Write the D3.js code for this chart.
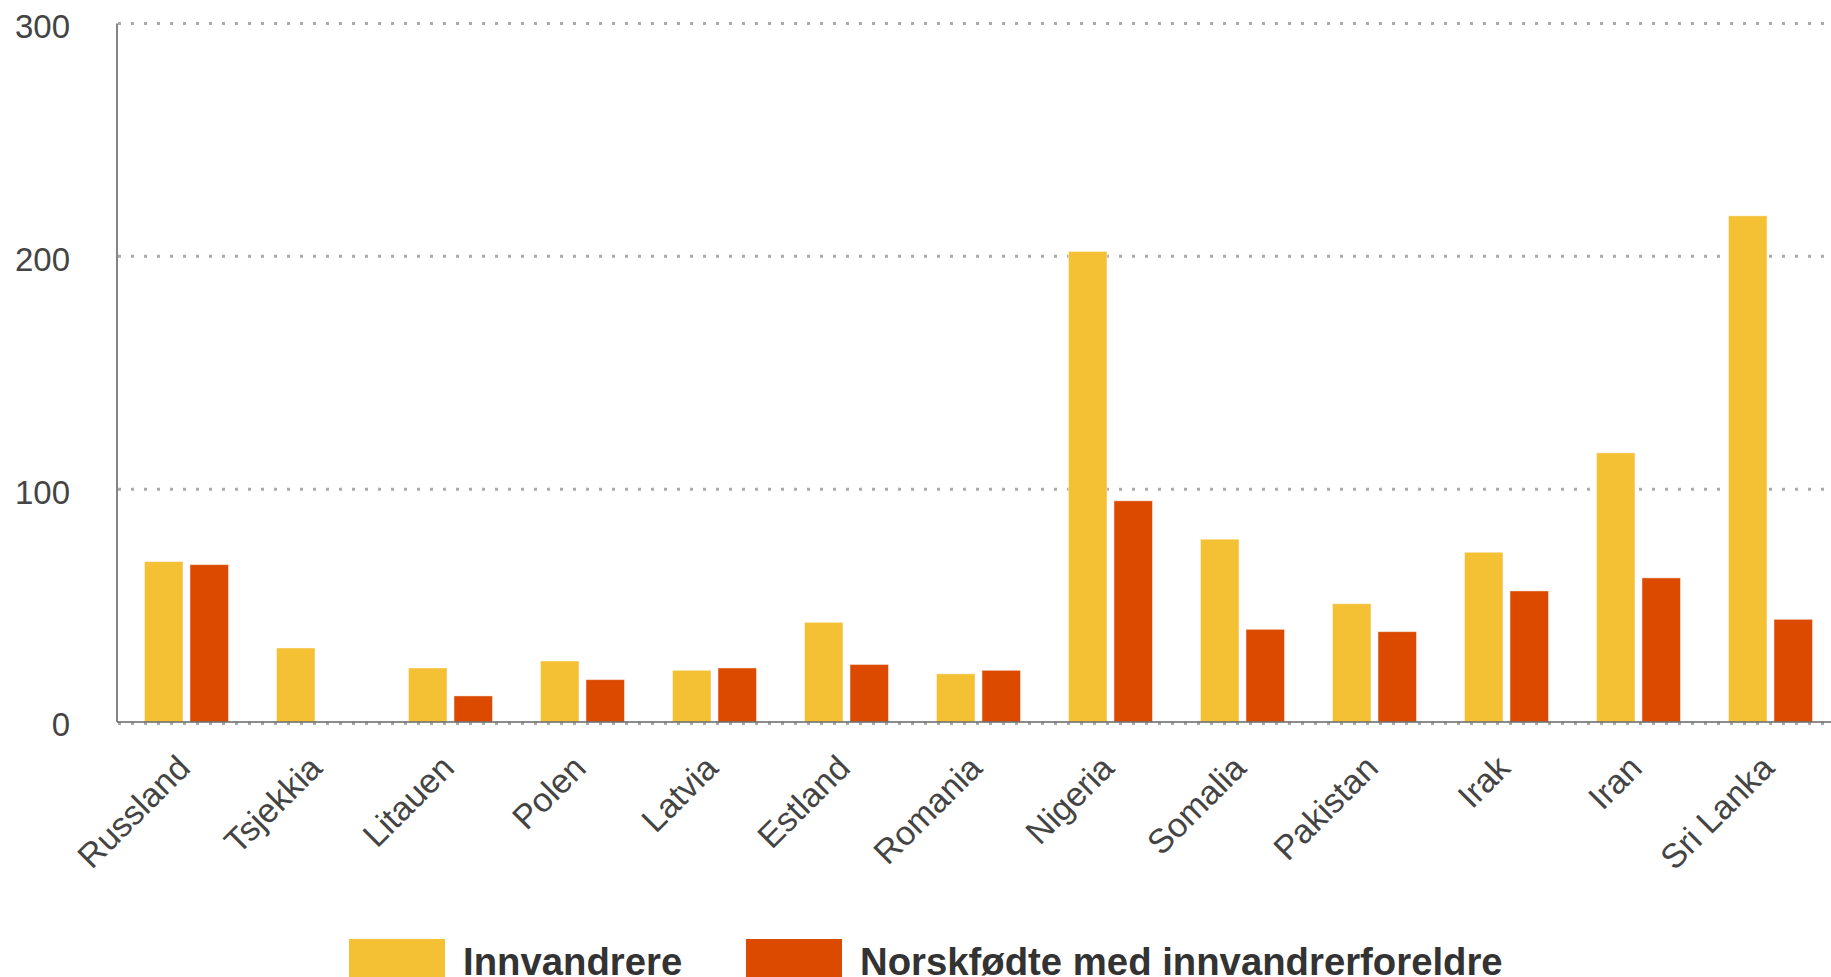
<!DOCTYPE html>
<html>
<head>
<meta charset="utf-8">
<script src="https://cdn.jsdelivr.net/npm/d3@7"></script>
<style>
  html, body { margin: 0; padding: 0; background: #fff; overflow: hidden; }
  svg { display: block; font-family: "Liberation Sans", Arial, sans-serif; }
</style>
</head>
<body>
<svg id="chart" width="1831" height="977"></svg>
<script>
const categories = ["Russland", "Tsjekkia", "Litauen", "Polen", "Latvia", "Estland", "Romania",
  "Nigeria", "Somalia", "Pakistan", "Irak", "Iran", "Sri Lanka"];
const seriesNames = ["Innvandrere", "Norskfødte med innvandrerforeldre"];
const innvandrere = [68.9, 31.8, 23.2, 26.2, 22.2, 42.8, 20.7, 202.1, 78.5, 50.8, 72.9, 115.6, 217.4];
const norskfodte = [67.6, null, 11.2, 18.2, 23.2, 24.7, 22.2, 95.0, 39.8, 38.8, 56.3, 61.9, 44.1];
const yTicks = [0, 100, 200, 300];
const colors = ["#F4C034", "#DC4A00"];

(function () {
const svg = d3.select("#chart");
const pLeft = 117, pRight = 117 + 13 * 132, pTop = 23.5, pBottom = 722;

const x0 = d3.scaleBand().domain(categories).range([pLeft, pRight]).paddingInner(0).paddingOuter(0);
const x1 = d3.scaleBand().domain(seriesNames).range([27.5, 111.5]).paddingInner(0.154).paddingOuter(0);
const y = d3.scaleLinear().domain([0, 300]).range([pBottom, pTop]);

// gridlines
svg.append("g").selectAll("line").data(yTicks).join("line")
  .attr("x1", pLeft + 1).attr("x2", 1831)
  .attr("y1", d => d === 0 ? y(d) + 1.5 : y(d)).attr("y2", d => d === 0 ? y(d) + 1.5 : y(d))
  .attr("stroke", "#aaaaaa").attr("stroke-width", 3).attr("stroke-dasharray", "3,10");

// bars
const data = categories.map((c, i) => ({ c, vals: [innvandrere[i], norskfodte[i]] }));
const groups = svg.append("g").selectAll("g").data(data).join("g")
  .attr("transform", d => `translate(${x0(d.c)},0)`);
groups.selectAll("rect").data(d => d.vals.map((v, j) => ({ v, s: seriesNames[j], j })).filter(e => e.v != null))
  .join("rect")
  .attr("x", d => x1(d.s)).attr("width", x1.bandwidth())
  .attr("y", d => y(d.v)).attr("height", d => y(0) - y(d.v))
  .attr("fill", d => colors[d.j])
  .attr("stroke", "rgba(255,255,255,0.45)").attr("stroke-width", 1);

// y axis line
svg.append("line").attr("x1", pLeft).attr("x2", pLeft).attr("y1", y(300)).attr("y2", pBottom)
  .attr("stroke", "#666").attr("stroke-width", 1.6);
// baseline
svg.append("line").attr("x1", pLeft).attr("x2", 1831).attr("y1", pBottom).attr("y2", pBottom)
  .attr("stroke", "#666").attr("stroke-width", 1.6);

// y labels
const yAxis = d3.axisLeft(y).tickValues(yTicks).tickSize(0).tickPadding(0);
const gy = svg.append("g").attr("transform", "translate(70,0)").call(yAxis);
gy.select(".domain").remove();
gy.selectAll("text").attr("font-size", 33).attr("fill", "#444")
  .attr("font-family", "'Liberation Sans', Arial, sans-serif").attr("dy", "0.42em");

// x labels
svg.append("g").selectAll("text").data(categories).join("text")
  .attr("transform", d => `translate(${x0(d) + x0.bandwidth() / 2 + 9},${pBottom + 48}) rotate(-45)`)
  .attr("text-anchor", "end").attr("font-size", 34).attr("fill", "#444")
  .text(d => d);

// legend
const legend = svg.append("g");
const legX = [349, 746];
seriesNames.forEach((s, i) => {
  legend.append("rect").attr("x", legX[i]).attr("y", 939).attr("width", 96).attr("height", 45)
    .attr("fill", colors[i]);
  legend.append("text").attr("x", legX[i] + 114).attr("y", 975).attr("font-size", 38.3)
    .attr("font-weight", "bold").attr("fill", "#333").text(s);
});
})();
</script>
</body>
</html>
